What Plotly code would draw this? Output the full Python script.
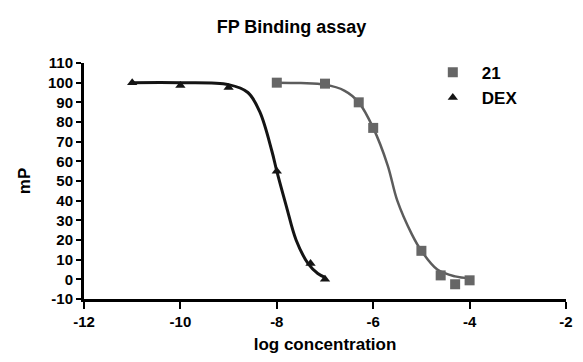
import plotly.graph_objects as go

# Data
x21 = [-8, -7, -6.3, -6, -5, -4.6, -4.3, -4]
y21 = [100, 99.5, 90, 77, 14.5, 2, -2.5, -0.5]

xdex = [-11, -10, -9, -8, -7.3, -7]
ydex = [100, 98.5, 97.5, 55, 8, 0]

# Fitted curves, points
cx21 = [-8, -7.5, -7, -6.6, -6.3, -6, -5.7, -5.5, -5.2, -5, -4.67, -4.3, -4]
cy21 = [100, 99.8, 99, 96, 90, 77, 58, 40, 23, 14.5, 5, 1.5, 0.5]

cxdex = [-11, -10, -9, -8.6, -8.35, -8.1, -8, -7.8, -7.6, -7.35, -7.15, -7]
cydex = [100, 100, 99, 95, 85, 65, 55, 37, 20, 8, 3, 1]

xticks = [-12, -10, -8, -6, -4, -2]
yticks = list(range(-10, 111, 10))

FONT = "Liberation Sans"
GRAY = "#666666"
GRAYLINE = "#5c5c5c"
BLACK = "#141414"

fig = go.Figure()
fig.add_trace(go.Scatter(x=cx21, y=cy21, mode="lines", line=dict(color=GRAYLINE, width=2.5, shape="spline"),
                         showlegend=False, hoverinfo="skip"))
fig.add_trace(go.Scatter(x=cxdex, y=cydex, mode="lines", line=dict(color=BLACK, width=3, shape="spline"),
                         showlegend=False, hoverinfo="skip"))
fig.add_trace(go.Scatter(x=x21, y=y21, mode="markers", name="21",
                         marker=dict(symbol="square", size=10, color=GRAY)))
fig.add_trace(go.Scatter(x=xdex, y=ydex, mode="markers", name="DEX",
                         marker=dict(symbol="triangle-up", size=9, color=BLACK)))

axis_common = dict(showline=True, linecolor="black", linewidth=3, ticks="outside",
                   tickwidth=2, tickcolor="black", showgrid=False, zeroline=False,
                   tickfont=dict(family=FONT, size=15, color="black", weight="bold"))

fig.update_layout(
    width=583, height=362,
    margin=dict(l=84, r=10, t=63, b=58),
    paper_bgcolor="white", plot_bgcolor="white",
    title=dict(text="FP Binding assay", x=0.5, xanchor="center", y=0.925, yanchor="middle",
               font=dict(family=FONT, size=18, color="black", weight="bold")),
    xaxis=dict(range=[-12, -2], tickvals=xticks, ticktext=[str(v) for v in xticks], ticklen=7,
               title=dict(text="log concentration", standoff=10,
                          font=dict(family=FONT, size=17, color="black", weight="bold")),
               **axis_common),
    yaxis=dict(range=[-10, 110], tickvals=yticks, ticktext=[str(v) for v in yticks], ticklen=5,
               title=dict(text="mP", standoff=14,
                          font=dict(family=FONT, size=17, color="black", weight="bold")),
               **axis_common),
    legend=dict(x=0.705, y=1.035, xanchor="left", yanchor="top", bgcolor="rgba(0,0,0,0)",
                font=dict(family=FONT, size=17, color="black", weight="bold"),
                itemwidth=48),
    showlegend=True,
)

fig.write_html("out.html")
